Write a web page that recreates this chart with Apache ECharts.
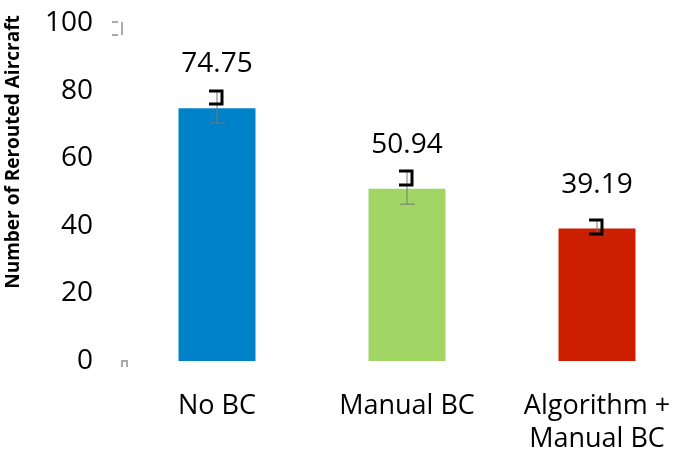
<!DOCTYPE html>
<html>
<head>
<meta charset="utf-8">
<script src="https://cdn.jsdelivr.net/npm/echarts@6/dist/echarts.min.js"></script>
<style>
  html, body { margin: 0; padding: 0; background: #fff; }
  #chart { width: 673px; height: 454px; }
</style>
</head>
<body>
<div id="chart"></div>
<script>
// categories and values
const categories = ['No BC', 'Manual BC', 'Algorithm +\nManual BC'];
const values = [74.75, 50.94, 39.19];
const barColors = ['#0082C8', '#A2D664', '#CC1E00'];
// error bar pieces: bracket top, bracket bottom, lower cap of the thin line
const errTop = [79.9, 56.2, 41.7];
const errMid = [76.0, 52.1, 37.6];
const errLow = [70.4, 46.4, 37.6];

const font = '"Open Sans", sans-serif';

const chart = echarts.init(document.getElementById('chart'));

chart.setOption({
    animation: false,
    backgroundColor: '#fff',
    grid: { left: 122, top: 23, width: 570, height: 338, outerBoundsMode: 'none', containLabel: false },
    xAxis: {
        type: 'category',
        data: categories,
        axisLine: { show: false },
        axisTick: { show: false },
        axisLabel: {
            color: '#000', fontFamily: font, fontSize: 27,
            margin: 29, lineHeight: 33, interval: 0
        }
    },
    yAxis: {
        type: 'value',
        min: 0, max: 100, interval: 20,
        axisLine: { show: false },
        axisTick: { show: false },
        splitLine: { show: false },
        axisLabel: { color: '#000', fontFamily: font, fontSize: 28, margin: 29, padding: [6, 0, 0, 0] }
    },
    series: [
        {
            type: 'bar',
            barWidth: 77,
            data: values.map((v, i) => ({ value: v, itemStyle: { color: barColors[i] } })),
            label: {
                show: true, position: 'top', distance: 30,
                color: '#000', fontFamily: font, fontSize: 28
            }
        },
        {
            type: 'custom',
            data: categories.map((c, i) => [i, errTop[i], errMid[i], errLow[i]]),
            z: 5,
            renderItem: function (params, api) {
                const top = api.coord([api.value(0), api.value(1)]);
                const mid = api.coord([api.value(0), api.value(2)]);
                const low = api.coord([api.value(0), api.value(3)]);
                const x = top[0];
                return {
                    type: 'group',
                    children: [
                        { type: 'line', shape: { x1: x, y1: top[1], x2: x, y2: low[1] },
                          style: { stroke: '#777', lineWidth: 1 } },
                        { type: 'line', shape: { x1: x - 7, y1: low[1], x2: x + 8, y2: low[1] },
                          style: { stroke: '#777', lineWidth: 1 } },
                        { type: 'polyline',
                          shape: { points: [[x - 8, top[1]], [x + 5, top[1]], [x + 5, mid[1]], [x - 8, mid[1]]] },
                          style: { stroke: '#000', lineWidth: 3, fill: null } }
                    ]
                };
            }
        }
    ],
    graphic: [
        { type: 'text', x: 14, y: 152, rotation: Math.PI / 2,
          style: { text: 'Number of Rerouted Aircraft', fill: '#000', font: 'bold 19px ' + font,
                   align: 'center', verticalAlign: 'middle' } },
        { type: 'polyline', shape: { points: [[112, 22], [118, 22]] }, style: { stroke: '#aaa', lineWidth: 2 } },
        { type: 'polyline', shape: { points: [[112, 35], [118, 35]] }, style: { stroke: '#aaa', lineWidth: 2 } },
        { type: 'polyline', shape: { points: [[122, 22], [122, 35]] }, style: { stroke: '#aaa', lineWidth: 2 } },
        { type: 'polyline', shape: { points: [[122, 367], [122, 361], [127, 361], [127, 367]] },
          style: { stroke: '#aaa', lineWidth: 2, fill: null } }
    ]
});
</script>
</body>
</html>
